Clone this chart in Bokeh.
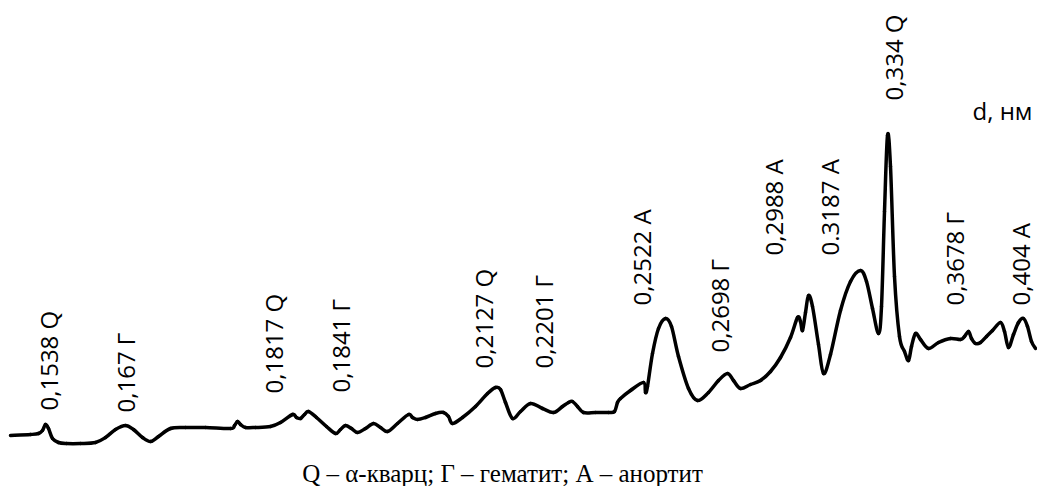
import math
from bokeh.plotting import figure
from bokeh.models import Range1d
from bokeh.core.properties import value
from bokeh.embed import file_html
from bokeh.resources import INLINE

# Diffractogram trace: position along the scan and relative intensity
pos = [10, 30, 38, 42, 45, 48, 52, 58, 66, 80, 95, 105, 115, 125, 133, 142, 150, 158,
       170, 185, 205, 230, 234, 237, 240, 245, 255, 270, 280, 292, 296, 300, 304, 308,
       316, 326, 335, 340, 345, 351, 357, 365, 373, 380, 387, 397, 408, 412, 417, 425,
       435, 443, 448, 452, 462, 475, 487, 495, 500, 505, 512, 520, 530, 542, 553, 562,
       568, 572, 577, 583, 595, 608, 614, 617, 620, 630, 643, 645, 647, 652, 658, 665,
       671, 678, 688, 697, 708, 718, 727, 733, 740, 750, 760, 770, 780, 790, 797, 800,
       802, 805, 808, 812, 818, 823, 830, 840, 850, 860, 866, 872, 878, 881, 884, 887,
       890, 894, 899, 904, 908, 911, 915, 920, 928, 938, 950, 960, 964, 968, 971, 975,
       980, 986, 992, 1000, 1004, 1008, 1013, 1018, 1023, 1027, 1031, 1035]
inten = [51, 52, 53, 56, 62, 58, 48, 44, 43, 43, 44, 49, 57, 61, 57, 49, 45, 50,
         58, 59, 59, 58, 61, 65, 62, 59, 59, 60, 64, 72, 69, 68, 72, 75,
         69, 60, 53, 57, 61, 58, 54, 58, 63, 59, 55, 63, 72, 69, 67, 69,
         73, 74, 70, 63, 69, 80, 93, 99, 97, 84, 68, 75, 83, 78, 74, 80,
         84, 85, 80, 74, 74, 74, 75, 84, 88, 96, 104, 94, 100, 133, 158, 168,
         160, 130, 98, 86, 94, 106, 113, 106, 98, 102, 106, 115, 129, 149, 169, 165,
         156, 174, 191, 180, 142, 113, 132, 176, 205, 216, 205, 178, 153, 180, 275, 351,
         320, 210, 150, 135, 126, 140, 153, 147, 138, 144, 148, 147, 150, 155, 148, 143,
         144, 150, 156, 164, 155, 139, 152, 164, 168, 160, 145, 138]

# Peak annotations: interplanar distance d (nm) and phase
labels = ["0,1538 Q", "0,167 Г", "0,1817 Q", "0,1841 Г", "0,2127 Q", "0,2201 Г",
          "0,2522 А", "0,2698 Г", "0,2988 А", "0.3187 А", "0,334 Q", "0,3678 Г", "0,404 А"]
label_x = [48, 125, 273, 340, 483, 543, 641, 719, 773, 829, 893, 954, 1020]
label_y = [76, 74, 93, 94, 118, 118, 181, 134, 231, 231, 386, 181, 181]

axis_title = "d, нм"
caption = "Q – α-кварц; Г – гематит; А – анортит"

W, H = 1037, 486
p = figure(width=W, height=H, output_backend="svg", toolbar_location=None,
           x_range=Range1d(0, W), y_range=Range1d(0, H),
           min_border=0, min_border_left=0, min_border_right=0,
           min_border_top=0, min_border_bottom=0)
p.axis.visible = False
p.grid.visible = False
p.outline_line_color = None
p.background_fill_color = "white"
p.border_fill_color = "white"

# smooth curve through the read points (Catmull-Rom drawn as Bezier segments)
n = len(pos)
x0, y0, x1, y1, cx0, cy0, cx1, cy1 = [], [], [], [], [], [], [], []
for i in range(n - 1):
    a = max(i - 1, 0)
    b = min(i + 2, n - 1)
    x0.append(pos[i]); y0.append(inten[i])
    x1.append(pos[i + 1]); y1.append(inten[i + 1])
    cx0.append(pos[i] + (pos[i + 1] - pos[a]) / 6.0)
    cy0.append(inten[i] + (inten[i + 1] - inten[a]) / 6.0)
    cx1.append(pos[i + 1] - (pos[b] - pos[i]) / 6.0)
    cy1.append(inten[i + 1] - (inten[b] - inten[i]) / 6.0)
p.bezier(x0=x0, y0=y0, x1=x1, y1=y1, cx0=cx0, cy0=cy0, cx1=cx1, cy1=cy1,
         line_color="black", line_width=3.5, line_cap="round")

p.text(x=label_x, y=label_y, text=labels, angle=math.pi / 2,
       text_align="left", text_baseline="middle",
       text_font=value("Open Sans"), text_font_size="24px", text_color="black")

p.text(x=[972], y=[376], text=[axis_title], text_align="left", text_baseline="middle",
       text_font=value("Open Sans"), text_font_size="24px", text_color="black")

p.text(x=[502], y=[13], text=[caption], text_align="center", text_baseline="alphabetic",
       text_font=value("Liberation Serif"), text_font_size="25px", text_color="black")

open("out.html", "w").write(file_html(p, INLINE))
